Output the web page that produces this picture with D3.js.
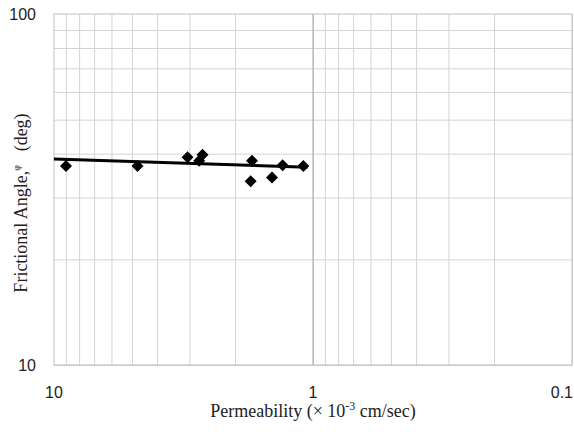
<!DOCTYPE html>
<html>
<head>
<meta charset="utf-8">
<script src="https://cdn.jsdelivr.net/npm/d3@7"></script>
<style>
  body { margin: 0; background: #fff; }
  .grid line { stroke: #d4d4d4; stroke-width: 1; }
  .grid path { display: none; }
  .tick-label { font-family: "Liberation Sans", Arial, sans-serif; font-size: 16px; fill: #222; }
  .title { font-family: "Liberation Serif", "Times New Roman", serif; font-size: 18px; fill: #222; }
</style>
</head>
<body>
<svg id="chart"></svg>
<script>
var w = 574;
var h = 432;

// permeability (x 10^-3 cm/sec) and frictional angle (deg)
var permeability = [8.99, 4.76, 3.05, 2.75, 2.67, 1.72, 1.74, 1.44, 1.31, 1.09];
var frictionAngle = [36.9, 36.9, 39.1, 38.2, 39.7, 38.2, 33.4, 34.2, 37.1, 36.9];

// trend line end points
var trendX = [10, 1.05];
var trendY = [38.6, 36.6];

var xTicks = [10, 1, 0.1];
var yTicks = [10, 100];

var margin = {left: 54, right: 2, top: 14, bottom: 67};

var svg = d3.select("#chart")
  .attr("width", w)
  .attr("height", h);

var x = d3.scaleLog()
  .domain([10, 0.1])
  .range([margin.left, w - margin.right]);

var y = d3.scaleLog()
  .domain([10, 100])
  .range([h - margin.bottom, margin.top]);

// minor grid values 1..9 per decade
var xGrid = [];
[0.1, 1].forEach(function(d) {
  for (var i = 1; i < 10; i++) xGrid.push(d * i);
});
var yGrid = [];
for (var i = 1; i < 10; i++) yGrid.push(10 * i);

svg.append("g")
  .attr("class", "grid")
  .attr("transform", "translate(0," + (h - margin.bottom) + ")")
  .call(d3.axisBottom(x).tickValues(xGrid).tickSize(-(h - margin.top - margin.bottom)).tickFormat(""));

svg.append("g")
  .attr("class", "grid")
  .attr("transform", "translate(" + margin.left + ",0)")
  .call(d3.axisLeft(y).tickValues(yGrid).tickSize(-(w - margin.left - margin.right)).tickFormat(""));

// darker line at 1
svg.append("line")
  .attr("x1", x(1)).attr("x2", x(1))
  .attr("y1", y(100)).attr("y2", y(10))
  .attr("stroke", "#a6a6a6");

// plot border
svg.append("rect")
  .attr("x", margin.left)
  .attr("y", margin.top)
  .attr("width", w - margin.left - margin.right)
  .attr("height", h - margin.top - margin.bottom)
  .attr("fill", "none")
  .attr("stroke", "#bfbfbf");

// tick labels
svg.selectAll(".xlabel")
  .data(xTicks)
  .enter()
  .append("text")
  .attr("class", "tick-label")
  .attr("x", function(d, i) { return i == xTicks.length - 1 ? w - 1 : x(d); })
  .attr("y", h - margin.bottom + 33)
  .attr("text-anchor", function(d, i) { return i == xTicks.length - 1 ? "end" : "middle"; })
  .text(function(d) { return d; });

svg.selectAll(".ylabel")
  .data(yTicks)
  .enter()
  .append("text")
  .attr("class", "tick-label")
  .attr("x", margin.left - 18)
  .attr("y", function(d) { return y(d) + 6; })
  .attr("text-anchor", "end")
  .text(function(d) { return d; });

// trend line
var line = d3.line()
  .x(function(d) { return x(d[0]); })
  .y(function(d) { return y(d[1]); });

svg.append("path")
  .datum(d3.zip(trendX, trendY))
  .attr("d", line)
  .attr("fill", "none")
  .attr("stroke", "#000")
  .attr("stroke-width", 3);

// diamonds
var diamond = "M0,-6L6,0L0,6L-6,0Z";
svg.selectAll(".pt")
  .data(d3.zip(permeability, frictionAngle))
  .enter()
  .append("path")
  .attr("class", "pt")
  .attr("d", diamond)
  .attr("transform", function(d) { return "translate(" + x(d[0]) + "," + y(d[1]) + ")"; })
  .attr("fill", "#000");

// axis titles
var xt = svg.append("text")
  .attr("class", "title")
  .attr("x", x(1))
  .attr("y", h - 15)
  .attr("text-anchor", "middle");
xt.append("tspan").text("Permeability (\u00d7 10");
xt.append("tspan").attr("dy", -7).attr("font-size", "12px").text("-3");
xt.append("tspan").attr("dy", 7).text(" cm/sec)");

var yt = svg.append("text")
  .attr("class", "title")
  .attr("transform", "translate(27,203) rotate(-90)")
  .attr("text-anchor", "middle");
yt.append("tspan").text("Frictional Angle,");
yt.append("tspan").attr("dy", -7).attr("font-size", "10px").text("\u03c6");
yt.append("tspan").attr("dy", 7).attr("xml:space", "preserve").text("   (deg)");
</script>
</body>
</html>
